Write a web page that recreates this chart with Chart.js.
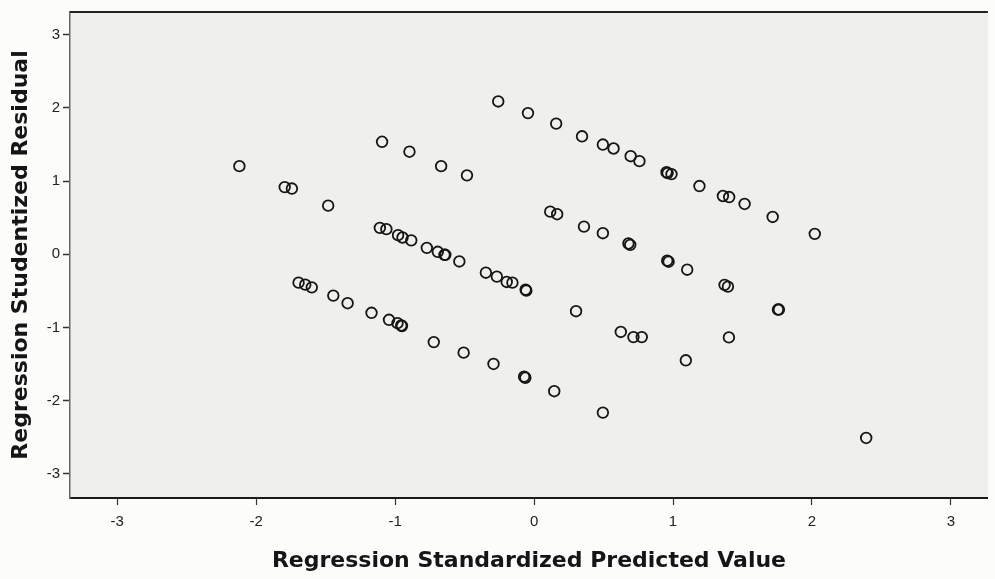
<!DOCTYPE html>
<html>
<head>
<meta charset="utf-8">
<script src="https://cdn.jsdelivr.net/npm/chart.js@4/dist/chart.umd.min.js"></script>
<style>
  html, body { margin: 0; padding: 0; background: #fcfcfa; }
  #wrap { width: 995px; height: 579px; }
</style>
</head>
<body>
<div id="wrap"><canvas id="c" width="995" height="579"></canvas></div>
<script>
// Regression Standardized Predicted Value (x) for each case
const predictedValues = [
  -0.258, -0.044, 0.159, 0.345, 0.495, 0.572, 0.695, 0.758, 0.953, 0.989, 0.961, 1.190, 1.359, 1.404, 1.515, 1.717, 2.020,
  -1.094, -0.897, -0.669, -0.483,
  -2.121, -1.795, -1.743, -1.482, -1.110, -1.063, -0.979, -0.947, -0.884, -0.772, -0.693, -0.645, -0.639, -0.538,
  -0.347, -0.268, -0.197, -0.156, -0.061, -0.056,
  0.116, 0.166, 0.359, 0.495, 0.679, 0.692, 0.958, 0.968, 1.102, 1.371, 1.395, 1.755, 1.762,
  -1.695, -1.647, -1.600, -1.445, -1.342, -1.170, -1.044, -0.983, -0.956, -0.951, -0.722, -0.507, -0.292, -0.072, -0.063, 0.145, 0.495,
  0.302, 0.624, 0.715, 0.775, 1.402, 1.092, 2.390
];
// Regression Studentized Residual (y) for each case
const studentizedResiduals = [
  2.088, 1.929, 1.785, 1.612, 1.499, 1.445, 1.340, 1.272, 1.122, 1.095, 1.109, 0.932, 0.796, 0.782, 0.687, 0.510, 0.279,
  1.537, 1.401, 1.204, 1.078,
  1.204, 0.918, 0.898, 0.664, 0.361, 0.343, 0.261, 0.229, 0.190, 0.088, 0.034, -0.007, -0.007, -0.098,
  -0.252, -0.306, -0.378, -0.388, -0.483, -0.497,
  0.582, 0.547, 0.378, 0.288, 0.147, 0.129, -0.088, -0.102, -0.211, -0.419, -0.442, -0.755, -0.755,
  -0.388, -0.415, -0.452, -0.565, -0.669, -0.800, -0.895, -0.941, -0.973, -0.980, -1.200, -1.344, -1.499, -1.673, -1.687, -1.871, -2.163,
  -0.778, -1.061, -1.132, -1.132, -1.136, -1.449, -2.510
];
const xTickValues = [-3, -2, -1, 0, 1, 2, 3];
const xTickLabels = ['-3', '-2', '-1', '0', '1', '2', '3'];
const yTickValues = [-3, -2, -1, 0, 1, 2, 3];
const yTickLabels = ['-3', '-2', '-1', '0', '1', '2', '3'];
const xAxisTitle = 'Regression Standardized Predicted Value';
const yAxisTitle = 'Regression Studentized Residual';

const points = predictedValues.map((x, i) => ({ x: x, y: studentizedResiduals[i] }));

const frame = {
  id: 'frame',
  beforeDraw(chart) {
    const { ctx, chartArea: a } = chart;
    ctx.save();
    ctx.fillStyle = '#efefeb';
    ctx.fillRect(a.left, a.top, a.right - a.left, a.bottom - a.top);
    ctx.restore();
  },
  afterDraw(chart) {
    const { ctx, chartArea: a } = chart;
    ctx.save();
    ctx.strokeStyle = '#222';
    ctx.lineWidth = 2;
    ctx.beginPath();
    ctx.moveTo(a.left, a.top);
    ctx.lineTo(a.right, a.top);
    ctx.stroke();
    ctx.restore();
  }
};

const tickFont = { family: '"Liberation Sans", Arial, sans-serif', size: 15 };
const titleFont = { family: '"DejaVu Sans", sans-serif', size: 22, weight: 'bold' };

new Chart(document.getElementById('c'), {
  type: 'scatter',
  data: {
    datasets: [{
      data: points,
      pointStyle: 'circle',
      pointRadius: 5.3,
      pointBorderWidth: 1.8,
      pointBorderColor: '#151515',
      pointBackgroundColor: 'rgba(0,0,0,0)'
    }]
  },
  options: {
    responsive: false,
    animation: false,
    devicePixelRatio: 1,
    layout: { padding: { top: 10, right: 2, left: 0, bottom: 0 } },
    plugins: { legend: { display: false }, tooltip: { enabled: false } },
    scales: {
      x: {
        type: 'linear',
        min: -3.34,
        max: 3.266,
        afterFit(s) { s.height = 81; },
        afterBuildTicks(s) { s.ticks = xTickValues.map(v => ({ value: v })); },
        ticks: {
          font: tickFont,
          color: '#222',
          padding: 8,
          maxRotation: 0,
          callback(v) { const i = xTickValues.indexOf(v); return i >= 0 ? xTickLabels[i] : ''; }
        },
        grid: { drawOnChartArea: false, drawTicks: true, tickLength: 7, color: '#333', tickWidth: 1.2 },
        border: { display: true, color: '#1a1a1a', width: 2 },
        title: { display: true, text: xAxisTitle, font: titleFont, color: '#151515', padding: { top: 0, bottom: 5 } }
      },
      y: {
        type: 'linear',
        min: -3.33,
        max: 3.31,
        afterFit(s) { s.width = 70; },
        afterBuildTicks(s) { s.ticks = yTickValues.map(v => ({ value: v })); },
        ticks: {
          font: tickFont,
          color: '#222',
          padding: 3,
          callback(v) { const i = yTickValues.indexOf(v); return i >= 0 ? yTickLabels[i] : ''; }
        },
        grid: { drawOnChartArea: false, drawTicks: true, tickLength: 7, color: '#333', tickWidth: 1.5 },
        border: { display: true, color: '#666', width: 1.5 },
        title: { display: true, text: yAxisTitle, font: titleFont, color: '#151515', padding: { top: 8, bottom: 0 } }
      }
    }
  },
  plugins: [frame]
});
</script>
</body>
</html>
